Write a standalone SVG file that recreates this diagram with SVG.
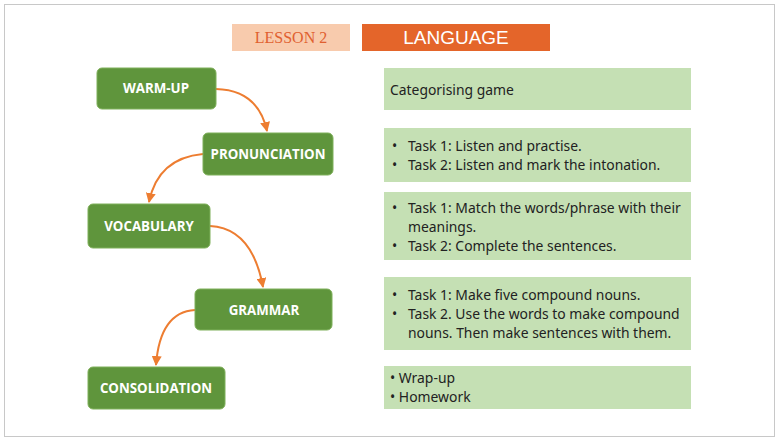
<svg xmlns="http://www.w3.org/2000/svg" width="780" height="442" viewBox="0 0 780 442">
<style>
.n{fill:#5f953c;stroke:#7fb05a;stroke-width:1}
.nt{font-family:"Open Sans","DejaVu Sans",sans-serif;font-weight:bold;font-size:13.3px;fill:#fff;text-anchor:middle}
.b{fill:#c5e0b4}
.t{font-family:"Noto Sans","DejaVu Sans",sans-serif;font-size:13.9px;fill:#222}
.c{fill:none;stroke:#ed7d31;stroke-width:2;marker-end:url(#a)}
</style>
<defs><marker id="a" viewBox="0 0 10 10" refX="9" refY="5" markerWidth="5" markerHeight="5" orient="auto"><path d="M0,0L10,5L0,10z" fill="#ed7d31"/></marker></defs>
<rect x="0" y="0" width="780" height="442" fill="#fff"/>
<rect x="4.5" y="4.5" width="770" height="432" fill="none" stroke="#c8c8c8"/>
<g id="header">
<rect x="232" y="24" width="118" height="27" fill="#f8cbad"/>
<text x="291" y="43" text-anchor="middle" font-family="Liberation Serif,serif" font-size="16" fill="#e06030">LESSON 2</text>
<rect x="362" y="24" width="188" height="27" fill="#e4652a"/>
<text x="456" y="44" text-anchor="middle" font-family="Liberation Sans,sans-serif" font-size="19" fill="#fff">LANGUAGE</text>
</g>
<g id="connectors">
<path class="c" d="M216,89 Q258,90 267,131"/>
<path class="c" d="M203,154 Q158,158 149,202"/>
<path class="c" d="M210,226 Q252,228 263,287"/>
<path class="c" d="M195,310 Q160,312 156,365"/>
</g>
<g id="warmup"><rect class="n" x="97" y="68" width="119" height="41" rx="5"/><text class="nt" x="156" y="93">WARM-UP</text></g>
<g id="pronunciation"><rect class="n" x="203" y="133" width="130" height="42" rx="5"/><text class="nt" x="268" y="159">PRONUNCIATION</text></g>
<g id="vocabulary"><rect class="n" x="88" y="204" width="122" height="44" rx="5"/><text class="nt" x="149" y="231">VOCABULARY</text></g>
<g id="grammar"><rect class="n" x="195" y="289" width="137" height="41" rx="5"/><text class="nt" x="264" y="315">GRAMMAR</text></g>
<g id="consolidation"><rect class="n" x="88" y="367" width="137" height="42" rx="5"/><text class="nt" x="156" y="393">CONSOLIDATION</text></g>
<g id="box1"><rect class="b" x="384" y="68" width="307" height="42"/><text class="t" x="390" y="95">Categorising game</text></g>
<g id="box2"><rect class="b" x="384" y="128" width="307" height="54"/>
<text class="t" x="392" y="151">•</text><text class="t" x="408" y="151">Task 1: Listen and practise.</text>
<text class="t" x="392" y="170">•</text><text class="t" x="408" y="170">Task 2: Listen and mark the intonation.</text></g>
<g id="box3"><rect class="b" x="384" y="192" width="307" height="68"/>
<text class="t" x="392" y="213">•</text><text class="t" x="408" y="213">Task 1: Match the words/phrase with their</text>
<text class="t" x="408" y="232">meanings.</text>
<text class="t" x="392" y="251">•</text><text class="t" x="408" y="251">Task 2: Complete the sentences.</text></g>
<g id="box4"><rect class="b" x="384" y="277" width="307" height="73"/>
<text class="t" x="392" y="300">•</text><text class="t" x="408" y="300">Task 1: Make five compound nouns.</text>
<text class="t" x="392" y="319">•</text><text class="t" x="408" y="319">Task 2. Use the words to make compound</text>
<text class="t" x="408" y="338">nouns. Then make sentences with them.</text></g>
<g id="box5"><rect class="b" x="384" y="366" width="307" height="43"/>
<text class="t" x="390" y="383">• Wrap-up</text>
<text class="t" x="390" y="402">• Homework</text></g>
</svg>
